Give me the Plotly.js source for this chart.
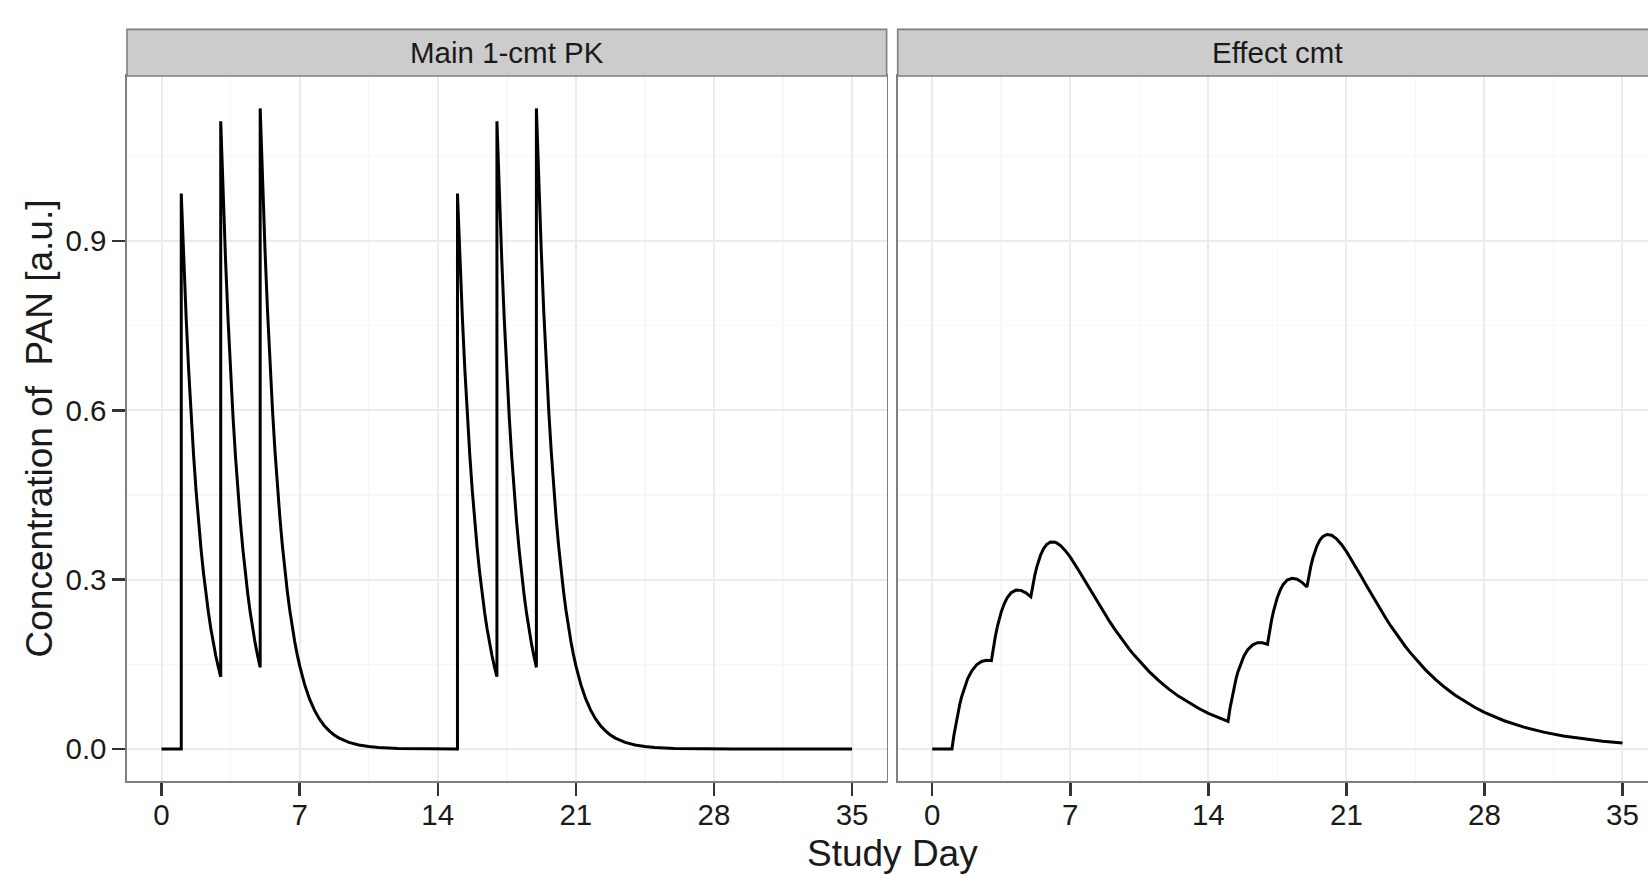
<!DOCTYPE html>
<html>
<head>
<meta charset="utf-8">
<script src="https://cdn.plot.ly/plotly-3.0.1.min.js"></script>
<style>
html, body { margin: 0; padding: 0; overflow: hidden; background: #ffffff; }
#chart { width: 1667px; height: 874px; }
</style>
</head>
<body>
<div id="chart"></div>
<script>
// ---------- data ----------
const panelTitles = ["Main 1-cmt PK", "Effect cmt"];
const xTitle = "Study Day";
const yTitle = "Concentration of\u00a0 PAN [a.u.]";

const xTickVals = [0, 7, 14, 21, 28, 35];
const xTickText = ["0", "7", "14", "21", "28", "35"];
const yTickVals = [0, 0.3, 0.6, 0.9];
const yTickText = ["0.0", "0.3", "0.6", "0.9"];

// Main 1-cmt PK (left panel)
const pkDay = [
  0, 1,
  1, 1.125, 1.25, 1.375, 1.5, 1.625, 1.75, 1.875, 2, 2.125, 2.25, 2.375, 2.5, 2.625, 2.75, 2.875, 3,
  3, 3.125, 3.25, 3.375, 3.5, 3.625, 3.75, 3.875, 4, 4.125, 4.25, 4.375, 4.5, 4.625, 4.75, 4.875, 5,
  5, 5.125, 5.25, 5.375, 5.5, 5.625, 5.75, 5.875, 6, 6.125, 6.25, 6.375, 6.5, 6.625, 6.75, 6.875, 7,
  7.25, 7.5, 7.75, 8, 8.25, 8.5, 8.75, 9, 9.5, 10, 10.5, 11, 12, 13, 14, 15,
  15, 15.125, 15.25, 15.375, 15.5, 15.625, 15.75, 15.875, 16, 16.125, 16.25, 16.375, 16.5, 16.625, 16.75, 16.875, 17,
  17, 17.125, 17.25, 17.375, 17.5, 17.625, 17.75, 17.875, 18, 18.125, 18.25, 18.375, 18.5, 18.625, 18.75, 18.875, 19,
  19, 19.125, 19.25, 19.375, 19.5, 19.625, 19.75, 19.875, 20, 20.125, 20.25, 20.375, 20.5, 20.625, 20.75, 20.875, 21,
  21.25, 21.5, 21.75, 22, 22.25, 22.5, 22.75, 23, 23.5, 24, 24.5, 25, 26, 27, 28, 29,
  35
];
const pkConc = [
  0, 0,
  0.984, 0.8662, 0.7625, 0.6713, 0.5909, 0.5202, 0.4579, 0.4031, 0.3548, 0.3123, 0.2749, 0.2421, 0.2130, 0.1876, 0.1651, 0.1453, 0.1279,
  1.112, 0.9789, 0.8617, 0.7586, 0.6678, 0.5878, 0.5174, 0.4555, 0.4010, 0.3530, 0.3107, 0.2736, 0.2407, 0.2120, 0.1866, 0.1642, 0.1446,
  1.135, 0.9992, 0.8795, 0.7743, 0.6816, 0.6000, 0.5281, 0.4649, 0.4093, 0.3602, 0.3171, 0.2792, 0.2457, 0.2163, 0.1905, 0.1676, 0.1476,
  0.1144, 0.0886, 0.0687, 0.0532, 0.0412, 0.0320, 0.0248, 0.0192, 0.0115, 0.0069, 0.0042, 0.0025, 0.0009, 0.0003, 0.0001, 0.0000,
  0.984, 0.8662, 0.7625, 0.6713, 0.5909, 0.5202, 0.4579, 0.4031, 0.3548, 0.3123, 0.2749, 0.2421, 0.2130, 0.1876, 0.1651, 0.1453, 0.1279,
  1.112, 0.9789, 0.8617, 0.7586, 0.6678, 0.5878, 0.5174, 0.4555, 0.4010, 0.3530, 0.3107, 0.2736, 0.2407, 0.2120, 0.1866, 0.1642, 0.1446,
  1.135, 0.9992, 0.8795, 0.7743, 0.6816, 0.6000, 0.5281, 0.4649, 0.4093, 0.3602, 0.3171, 0.2792, 0.2457, 0.2163, 0.1905, 0.1676, 0.1476,
  0.1144, 0.0886, 0.0687, 0.0532, 0.0412, 0.0320, 0.0248, 0.0192, 0.0115, 0.0069, 0.0042, 0.0025, 0.0009, 0.0003, 0.0001, 0.0000,
  0
];

// Effect compartment (right panel)
const effDay = [
  0, 1, 1.1, 1.2, 1.3, 1.4, 1.5, 1.65, 1.8, 2, 2.25, 2.5, 2.75, 3,
  3.1, 3.2, 3.3, 3.4, 3.5, 3.65, 3.8, 4, 4.25, 4.5, 4.75, 5,
  5.1, 5.2, 5.3, 5.4, 5.5, 5.65, 5.8, 6, 6.25, 6.5, 6.75, 7,
  7.25, 7.5, 7.75, 8, 8.25, 8.5, 8.75, 9, 9.25, 9.5, 9.75, 10, 10.25, 10.5, 10.75, 11,
  11.5, 12, 12.5, 13, 13.5, 14, 14.5, 15,
  15.1, 15.2, 15.3, 15.4, 15.5, 15.65, 15.8, 16, 16.25, 16.5, 16.75, 17,
  17.1, 17.2, 17.3, 17.4, 17.5, 17.65, 17.8, 18, 18.25, 18.5, 18.75, 19,
  19.1, 19.2, 19.3, 19.4, 19.5, 19.65, 19.8, 20, 20.25, 20.5, 20.75, 21,
  21.25, 21.5, 21.75, 22, 22.25, 22.5, 22.75, 23, 23.25, 23.5, 23.75, 24, 24.25, 24.5, 24.75, 25,
  25.5, 26, 26.5, 27, 27.5, 28, 28.5, 29,
  30, 31, 32, 33, 34, 35
];
const effConc = [
  0, 0, 0.0244, 0.0451, 0.0635, 0.0795, 0.0934, 0.1108, 0.1246, 0.1382, 0.1491, 0.1550, 0.1571, 0.1563,
  0.1794, 0.1993, 0.2163, 0.2308, 0.2428, 0.2573, 0.2679, 0.2767, 0.2815, 0.2810, 0.2767, 0.2696,
  0.2902, 0.3077, 0.3223, 0.3343, 0.3440, 0.3550, 0.3622, 0.3666, 0.3661, 0.3606, 0.3514, 0.3398,
  0.3266, 0.3123, 0.2976, 0.2827, 0.2679, 0.2532, 0.2391, 0.2255, 0.2122, 0.1998, 0.1878, 0.1764, 0.1658, 0.1556, 0.1461, 0.1370,
  0.1206, 0.1060, 0.0932, 0.0820, 0.0720, 0.0632, 0.0555, 0.0488,
  0.0721, 0.0916, 0.1088, 0.1237, 0.1364, 0.1522, 0.1644, 0.1760, 0.1845, 0.1882, 0.1882, 0.1854,
  0.2078, 0.2269, 0.2432, 0.2570, 0.2684, 0.2819, 0.2916, 0.2992, 0.3025, 0.3007, 0.2952, 0.2869,
  0.3070, 0.3241, 0.3383, 0.3499, 0.3592, 0.3696, 0.3762, 0.3800, 0.3786, 0.3723, 0.3624, 0.3501,
  0.3362, 0.3213, 0.3061, 0.2906, 0.2753, 0.2602, 0.2456, 0.2316, 0.2179, 0.2052, 0.1928, 0.1811, 0.1702, 0.1598, 0.1500, 0.1406,
  0.1238, 0.1088, 0.0957, 0.0842, 0.0739, 0.0649, 0.0570, 0.0500,
  0.0386, 0.0298, 0.0229, 0.0177, 0.0137, 0.0105
];

// ---------- styling ----------
const FONT = "Liberation Sans, Arial, Helvetica, sans-serif";
const TEXT = "#1a1a1a";
const BORDER = "#7f7f7f";
const GRID = "#ebebeb";
const GRID_MINOR = "#f7f7f7";

function xAxis(domain, anchor) {
  return {
    domain: domain, anchor: anchor,
    range: [-1.75, 36.75],
    tickmode: "array", tickvals: xTickVals, ticktext: xTickText,
    ticks: "outside", ticklen: 13, tickwidth: 2.5, tickcolor: "#333333",
    ticklabelstandoff: -6,
    tickfont: {family: FONT, size: 29.5, color: TEXT},
    showgrid: true, gridcolor: GRID, gridwidth: 2,
    minor: {tickmode: "linear", tick0: 0, dtick: 3.5, showgrid: true, gridcolor: GRID_MINOR, gridwidth: 1.5, ticks: ""},
    zeroline: false,
    showline: true, linecolor: BORDER, linewidth: 1.6, mirror: true,
    fixedrange: true
  };
}
function yAxis(anchor, labels) {
  return {
    domain: [0, 1], anchor: anchor,
    range: [-0.0568, 1.1924],
    tickmode: "array", tickvals: yTickVals, ticktext: yTickText,
    ticks: labels ? "outside" : "", ticklen: 13, tickwidth: 2.5, tickcolor: "#333333",
    showticklabels: labels,
    tickfont: {family: FONT, size: 29.5, color: TEXT},
    showgrid: true, gridcolor: GRID, gridwidth: 2,
    minor: {tickmode: "linear", tick0: 0.15, dtick: 0.3, showgrid: true, gridcolor: GRID_MINOR, gridwidth: 1.5, ticks: ""},
    zeroline: false,
    showline: true, linecolor: BORDER, linewidth: 1.6, mirror: true,
    fixedrange: true
  };
}

const traces = [
  {x: pkDay, y: pkConc, type: "scatter", mode: "lines", xaxis: "x", yaxis: "y",
   line: {color: "#000000", width: 3}, hoverinfo: "skip"},
  {x: effDay, y: effConc, type: "scatter", mode: "lines", xaxis: "x2", yaxis: "y2",
   line: {color: "#000000", width: 3}, hoverinfo: "skip"}
];

const stripTop = 1.0661;
const layout = {
  width: 1667, height: 874,
  margin: {l: 127, r: 10, t: 76, b: 93, pad: 0},
  paper_bgcolor: "#ffffff", plot_bgcolor: "#ffffff",
  showlegend: false,
  font: {family: FONT, color: TEXT},
  xaxis: xAxis([0, 0.49647], "y"),
  xaxis2: xAxis([0.50373, 1], "y2"),
  yaxis: yAxis("x", true),
  yaxis2: yAxis("x2", false),
  shapes: [
    {type: "rect", xref: "x domain", yref: "paper", x0: 0, x1: 1, y0: 1, y1: stripTop,
     fillcolor: "#cccccc", line: {color: BORDER, width: 1.6}, layer: "above"},
    {type: "rect", xref: "x2 domain", yref: "paper", x0: 0, x1: 1, y0: 1, y1: stripTop,
     fillcolor: "#cccccc", line: {color: BORDER, width: 1.6}, layer: "above"}
  ],
  annotations: [
    {text: panelTitles[0], xref: "x domain", yref: "paper", x: 0.5, y: 1.0333,
     xanchor: "center", yanchor: "middle", showarrow: false,
     font: {family: FONT, size: 29.5, color: TEXT}},
    {text: panelTitles[1], xref: "x2 domain", yref: "paper", x: 0.5, y: 1.0333,
     xanchor: "center", yanchor: "middle", showarrow: false,
     font: {family: FONT, size: 29.5, color: TEXT}},
    {text: xTitle, xref: "paper", yref: "paper", x: 0.5, y: -0.1035,
     xanchor: "center", yanchor: "middle", showarrow: false,
     font: {family: FONT, size: 37, color: TEXT}},
    {text: yTitle, xref: "paper", yref: "paper", x: -0.0569, y: 0.5, textangle: -90,
     xanchor: "center", yanchor: "middle", showarrow: false,
     font: {family: FONT, size: 37, color: TEXT}}
  ]
};

Plotly.newPlot("chart", traces, layout, {displayModeBar: false, staticPlot: true});
</script>
</body>
</html>
